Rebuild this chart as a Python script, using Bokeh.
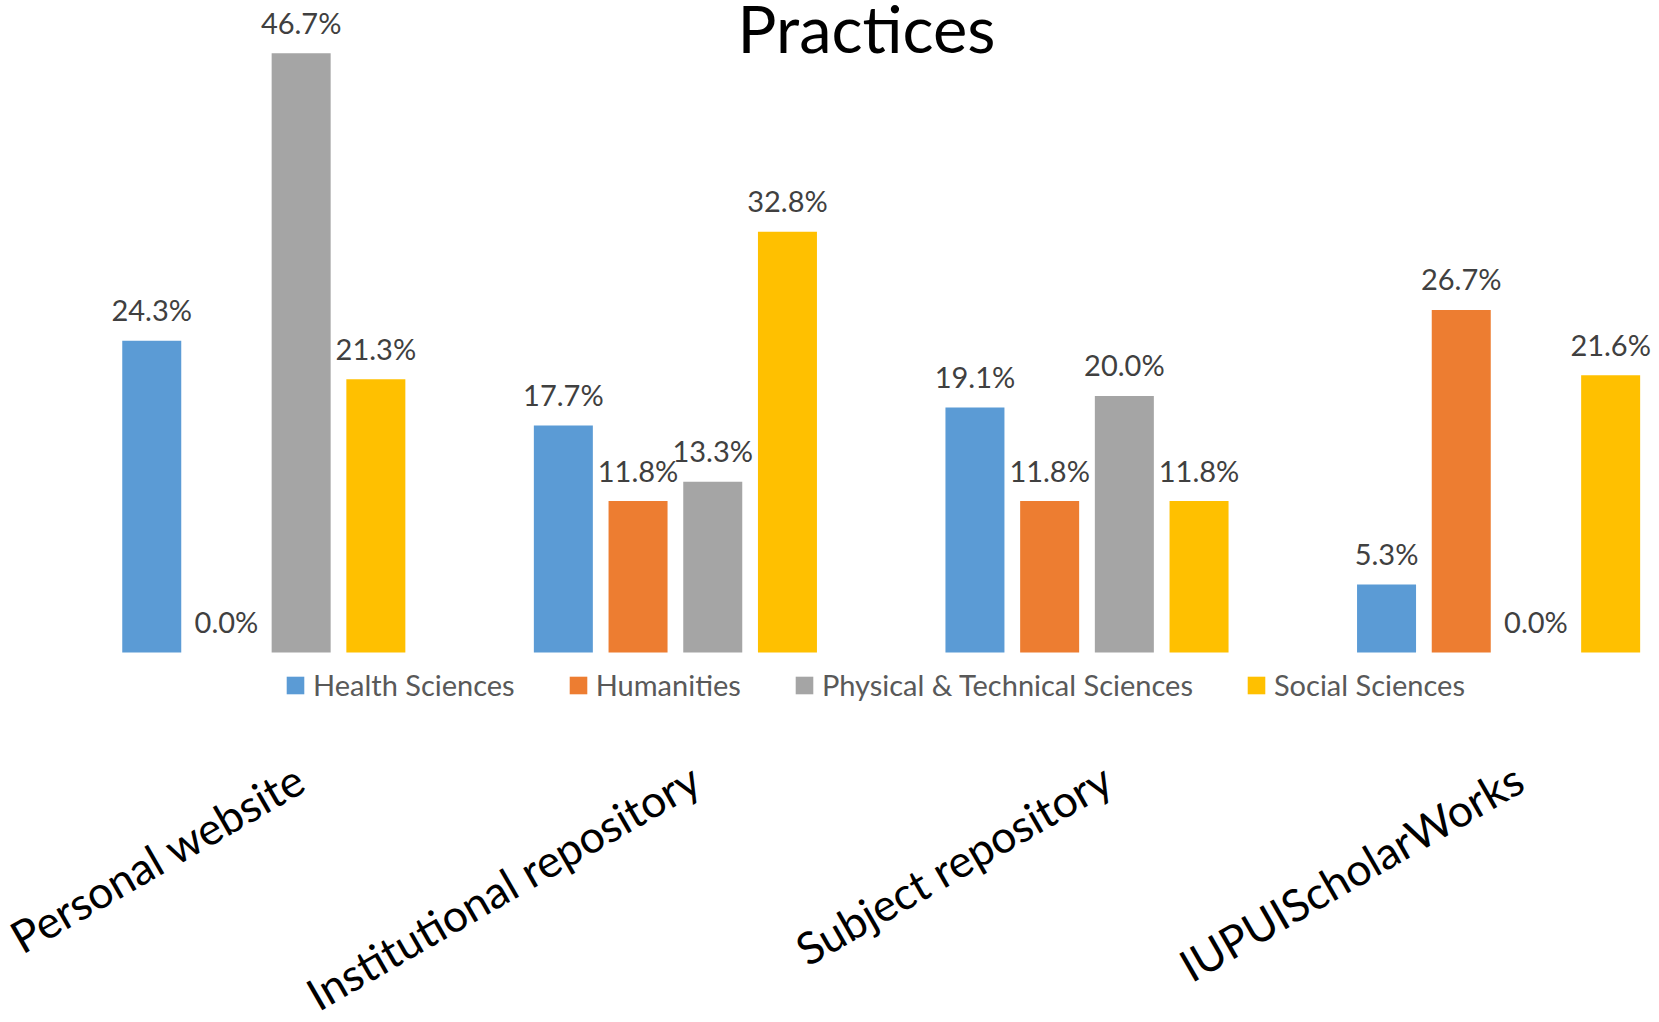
import math
from bokeh.plotting import figure
from bokeh.models import (ColumnDataSource, Range1d, LinearAxis, FixedTicker,
                          Legend, LegendItem, Label)
from bokeh.transform import dodge
from bokeh.core.properties import value
from bokeh.embed import file_html
from bokeh.resources import INLINE

# ---------------- data ----------------
categories = ["Personal website", "Institutional repository", "Subject repository", "IUPUIScholarWorks"]
series_names = ["Health Sciences", "Humanities", "Physical & Technical Sciences", "Social Sciences"]
health_sciences = [24.3, 17.7, 19.1, 5.3]
humanities = [0.0, 11.8, 11.8, 26.7]
physical_technical = [46.7, 13.3, 20.0, 0.0]
social_sciences = [21.3, 32.8, 11.8, 21.6]
title_text = "Practices"

# ---------------- styling / layout ----------------
colors = ["#5B9BD5", "#ED7D31", "#A5A5A5", "#FFC000"]
FONT = "Lato"
W, H = 1659, 1020
BASE = 652              # canvas y of the zero line
PX_PER_PCT = 12.83
CAT_PX = 411.6          # px between category centres
FIRST_CAT_PX = 263.3    # canvas x of the first category centre
BAR_W = 59 / CAT_PX
PITCH = 74.7 / CAT_PX
offsets = [(-1.5 + i) * PITCH for i in range(4)]
x0 = -FIRST_CAT_PX / CAT_PX
x1 = x0 + W / CAT_PX
LABEL_SHIFT = 20 / CAT_PX

series_values = [health_sciences, humanities, physical_technical, social_sciences]
cols = ["s0", "s1", "s2", "s3"]
idx = list(range(len(categories)))
data = {"idx": idx, "cat": categories}
for c, vals in zip(cols, series_values):
    data[c] = vals
    data[c + "_lab"] = [f"{v:.1f}%" for v in vals]
source = ColumnDataSource(data)

p = figure(width=W, height=H,
           x_range=Range1d(x0, x1),
           y_range=Range1d(-(H - BASE) / PX_PER_PCT, BASE / PX_PER_PCT),
           output_backend="svg", toolbar_location=None,
           x_axis_location=None, y_axis_location=None,
           min_border_left=0, min_border_right=0, min_border_top=0, min_border_bottom=0)
p.outline_line_color = None
p.grid.visible = False
p.background_fill_color = "white"
p.border_fill_color = "white"

renderers = []
for c, col, off in zip(cols, colors, offsets):
    r = p.vbar(x=dodge("idx", off), top=c, bottom=0, width=BAR_W,
               source=source, fill_color=col, line_color=None)
    renderers.append(r)
    p.text(x=dodge("idx", off), y=c, text=c + "_lab", source=source,
           text_align="center", text_baseline="alphabetic", y_offset=-31,
           text_font=value(FONT), text_font_size="29px", text_color="#404040")

legend = Legend(items=[LegendItem(label=n, renderers=[r]) for n, r in zip(series_names, renderers)],
                orientation="horizontal", location=(284, H - 702),
                glyph_width=22, glyph_height=22, label_standoff=7, spacing=52,
                label_height=34, padding=0, margin=0,
                border_line_color=None, background_fill_alpha=0,
                label_text_font=FONT, label_text_font_size="29px", label_text_color="#595959")
p.add_layout(legend)

# category axis (drawn inside the frame, just under the legend)
p.extra_x_ranges = {"lab": Range1d(x0 - LABEL_SHIFT, x1 - LABEL_SHIFT)}
xaxis = LinearAxis(x_range_name="lab",
                   fixed_location=-(762 - BASE) / PX_PER_PCT,
                   ticker=FixedTicker(ticks=idx),
                   major_label_overrides={i: c for i, c in zip(idx, categories)},
                   major_label_orientation=math.pi / 6,
                   major_label_standoff=12,
                   major_label_text_font=FONT, major_label_text_font_size="44.5px",
                   major_label_text_color="black",
                   major_tick_out=0, major_tick_in=0, minor_tick_out=0, minor_tick_in=0,
                   axis_line_color=None, major_tick_line_color=None, minor_tick_line_color=None)
p.add_layout(xaxis, "below")

title = Label(x=866, y=H - 27, x_units="screen", y_units="screen", text=title_text,
              text_align="center", text_baseline="alphabetic",
              text_font=FONT, text_font_size="65px", text_color="black")
p.add_layout(title)

open("out.html", "w").write(file_html(p, INLINE))
